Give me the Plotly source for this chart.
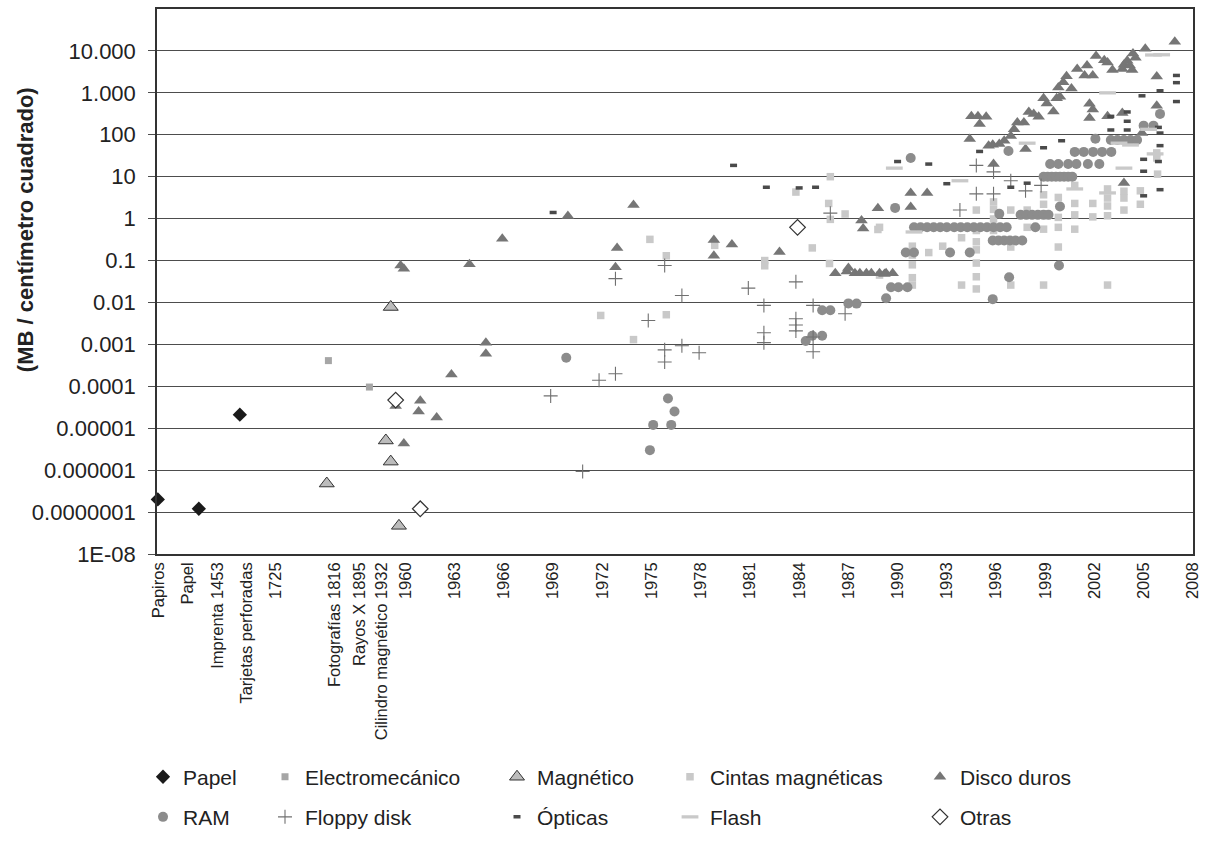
import plotly.graph_objects as go

# ---------------- axis ticks ----------------
# x positions are in "chart units": from 1960 on they equal years; the early
# historical categories sit at fixed positions left of 1960.
tick_pos = [1944.93, 1946.70, 1948.52, 1950.34, 1952.10, 1955.69, 1957.87,
            1960, 1963, 1966, 1969, 1972, 1975, 1978, 1981, 1984, 1987,
            1990, 1993, 1996, 1999, 2002, 2005, 2008]
tick_text = ["Papiros", "Papel", "Imprenta 1453", "Tarjetas perforadas", "1725",
             "Fotografías 1816", "Rayos X 1895<br>Cilindro magnético 1932",
             "1960", "1963", "1966", "1969", "1972", "1975", "1978", "1981",
             "1984", "1987", "1990", "1993", "1996", "1999", "2002", "2005", "2008"]
y_tick_vals = [1e-8, 1e-7, 1e-6, 1e-5, 1e-4, 1e-3, 1e-2, 1e-1, 1, 10, 100, 1000, 10000]
y_tick_text = ["1E-08", "0.0000001", "0.000001", "0.00001", "0.0001", "0.001",
               "0.01", "0.1", "1", "10", "100", "1.000", "10.000"]

# ---------------- series ----------------
papel_x = [1944.9, 1947.4, 1949.9]
papel_y = [2e-7, 1.2e-7, 2.1e-5]

electro_x = [1955.3, 1957.8]
electro_y = [4.1e-4, 9.6e-5]

magnet_x = [1955.2, 1958.8, 1959.1, 1959.1, 1959.6]
magnet_y = [4.8e-7, 5.1e-6, 1.6e-6, 0.0078, 4.7e-8]

cintas_x = [1971.9, 1975.9, 1973.9, 1974.9, 1975.9, 1978.85, 1981.9, 1981.9, 1983.8,
            1984.8, 1985.9, 1985.8, 1985.9, 1985.85, 1986.8, 1988.8, 1988.9, 1988.9,
            1990.9, 1990.9, 1990.9, 1990.9, 1990.9, 1991.9, 1992.75, 1993.9, 1993.9,
            1994.8, 1994.8, 1994.8, 1994.8, 1994.8, 1994.8, 1994.8,
            1995.85, 1995.85, 1995.85, 1995.85,
            1996.9, 1996.9, 1996.9, 1997.9, 1997.9,
            1998.9, 1998.9, 1998.9, 1998.9, 1998.9,
            1999.8, 1999.8, 1999.8, 1999.8,
            2000.8, 2000.8, 2000.8, 2000.8, 2001.9, 2001.9,
            2002.8, 2002.8, 2002.8, 2002.8, 2002.8,
            2003.8, 2003.8, 2003.8, 2004.8, 2004.8,
            2005.85, 2005.8, 2005.8]
cintas_y = [0.0049, 0.0051, 0.0013, 0.32, 0.13, 0.23, 0.075, 0.1, 4.3,
            0.2, 10, 2.3, 0.96, 0.085, 1.29, 0.55, 0.045, 0.62,
            0.22, 0.135, 0.079, 0.039, 0.026, 0.155, 0.22, 0.35, 0.026,
            1.6, 0.52, 0.28, 0.18, 0.087, 0.041, 0.021,
            2.5, 1.66, 0.98, 0.52,
            1.6, 0.21, 0.026, 1.6, 0.62,
            3.7, 2.2, 1.3, 0.56, 0.026,
            3.2, 1.07, 0.62, 0.21,
            6.2, 2.3, 1.23, 0.56, 2.3, 1.1,
            5.1, 3.1, 2.0, 1.17, 0.026,
            4.5, 3.1, 1.6, 4.6, 2.2,
            11.5, 37, 28]

disco_x = [1959.7, 1959.9, 1959.4, 1960.9, 1960.8, 1961.9, 1959.9, 1962.8, 1964.9,
           1964.9, 1963.9, 1965.9, 1969.9, 1973.9, 1972.9, 1972.8, 1978.8, 1978.8,
           1979.9, 1982.8,
           1986.2, 1986.9, 1987.0, 1987.4, 1987.7, 1988.1, 1988.4, 1988.9, 1989.2,
           1989.3, 1989.7,
           1988.8, 1987.8, 1987.9, 1990.8, 1991.8, 1990.8,
           1994.4, 1994.5, 1994.9, 1995.4, 1995.0, 1995.55, 1995.8, 1996.2, 1996.5,
           1996.9, 1997.1, 1997.3, 1997.7, 1998.0, 1998.3, 1998.6, 1998.9, 1999.1,
           1999.5, 1999.7, 1999.9, 1999.8, 2000.1, 2000.3, 2000.6, 2000.95, 2001.4,
           2001.55, 2001.9, 2002.1, 2002.6, 2002.8, 2003.1, 2003.7, 2003.8, 2004.0,
           2004.15, 2004.3, 2004.35, 2004.5, 2005.1, 2006.9, 2005.8, 2005.8,
           2001.7, 2001.9, 2001.7, 2002.8, 2003.7, 1995.85, 1997.8, 2003.8, 2004.9]
disco_y = [0.076, 0.064, 3.4e-5, 4.5e-5, 2.5e-5, 1.8e-5, 4.3e-6, 1.9e-4, 0.0011,
           6e-4, 0.082, 0.33, 1.15, 2.1, 0.2, 0.069, 0.31, 0.13,
           0.24, 0.16,
           0.05, 0.055, 0.066, 0.05, 0.05, 0.05, 0.05, 0.05, 0.048,
           0.05, 0.05,
           1.76, 0.9, 0.58, 4.1, 4.1, 1.9,
           79, 275, 275, 270, 180, 55, 58, 60, 72,
           94, 135, 195, 195, 350, 315, 270, 740, 560,
           360, 740, 810, 1350, 1800, 2500, 1270, 3700, 2600,
           4500, 2600, 7600, 6000, 5300, 3500, 3700, 4700, 5800,
           4500, 3500, 8700, 6900, 11300, 16600, 2450, 490,
           550, 400, 250, 275, 330, 20, 46, 7.1, 110]

ram_x = [1969.8, 1976.0, 1976.4, 1975.1, 1976.2, 1974.9,
         1984.4, 1984.8, 1985.4, 1985.4, 1985.9, 1987.0, 1987.5, 1989.3,
         1989.6, 1990.05, 1990.6, 1989.85, 1990.8,
         1990.5, 1991.0, 1993.2, 1994.4,
         1991.0, 1991.4, 1991.8, 1992.2, 1992.6, 1993.0,
         1993.45, 1993.85, 1994.25, 1994.65, 1995.05, 1995.45, 1995.85, 1996.25, 1996.65,
         1995.8, 1996.15, 1996.5, 1996.85, 1997.2, 1997.6,
         1995.8, 1996.8, 1996.2, 1996.76,
         1997.5, 1997.85, 1998.2, 1998.55, 1998.9, 1999.2,
         1998.4, 1999.9, 1999.84,
         1998.9, 1999.15, 1999.4, 1999.65, 1999.9, 2000.15, 2000.4, 2000.65,
         1999.3, 1999.8, 2000.4, 2000.9, 2001.6, 2002.3,
         2000.8, 2001.35, 2001.92, 2002.47, 2003.03,
         2002.06, 2003.0, 2003.4, 2003.8, 2004.2, 2004.6,
         2005.0, 2005.6, 2006.0]
ram_y = [4.8e-4, 5.1e-5, 2.5e-5, 1.2e-5, 1.2e-5, 3e-6,
         0.0012, 0.0016, 0.0016, 0.0065, 0.0065, 0.0095, 0.0094, 0.0126,
         0.023, 0.023, 0.023, 1.8, 28,
         0.155, 0.155, 0.155, 0.155,
         0.62, 0.62, 0.62, 0.62, 0.62, 0.62,
         0.62, 0.62, 0.62, 0.62, 0.62, 0.62, 0.62, 0.62, 0.62,
         0.30, 0.30, 0.30, 0.30, 0.30, 0.30,
         0.012, 0.04, 1.3, 41,
         1.23, 1.23, 1.23, 1.23, 1.23, 1.23,
         0.62, 1.95, 0.076,
         10, 10, 10, 10, 10, 10, 10, 10,
         20, 20, 20, 20, 20, 20,
         39, 39, 39, 39, 39,
         80, 75, 75, 75, 75, 75,
         165, 165, 315]

floppy_x = [1968.85, 1970.8, 1971.8, 1972.8, 1972.8, 1974.8, 1975.8, 1975.8, 1975.8,
            1976.85, 1976.85, 1977.9, 1980.9, 1981.85, 1981.85, 1981.85, 1983.8, 1983.8,
            1983.8, 1983.8, 1984.85, 1984.85, 1984.85, 1985.9, 1986.8, 1993.8, 1994.8,
            1995.85, 1994.8, 1995.85, 1996.9, 1997.8, 1998.75]
floppy_y = [5.9e-5, 9.3e-7, 1.4e-4, 2e-4, 0.037, 0.0037, 0.076, 7.4e-4, 3.8e-4,
            0.0146, 9.3e-4, 6.3e-4, 0.022, 0.0085, 0.0019, 0.0011, 0.031, 0.0041,
            0.0029, 0.0021, 0.0085, 0.0015, 6.7e-4, 1.35, 0.0054, 1.6, 18.6,
            13, 3.9, 3.9, 8, 4.6, 6.2]

optic_x = [1969.0, 1980.0, 1982.0, 1984.0, 1985.0, 1990.0, 1991.9, 1993.0, 1995.0,
           1996.9, 1997.9, 1998.9, 2000.0, 2003.0, 2003.0, 2004.0, 2004.0, 2004.0,
           2004.9, 2005.0, 2005.0, 2005.0, 2006.0, 2005.9, 2006.0, 2006.0, 2005.9,
           2006.0, 2007.0, 2007.0, 2007.0]
optic_y = [1.4, 18.6, 5.6, 5.4, 5.6, 23, 20, 6.8, 40,
           5.6, 7, 49, 72, 275, 130, 350, 210, 130,
           850, 26, 13.5, 3.5, 1120, 150, 110, 55, 23,
           4.9, 2600, 1750, 620]

flash_x = [1989.8, 1991.0, 1993.8, 1997.9, 2000.8, 2002.8, 2002.8, 2003.5, 2004.2,
           2003.8, 2005.3, 2005.7, 2005.6, 2006.1]
flash_y = [16, 0.48, 8, 63, 5.1, 4.1, 1000, 63, 57,
           16, 135, 35, 8000, 8100]

otras_x = [1959.4, 1960.9, 1983.9]
otras_y = [4.7e-5, 1.2e-7, 0.62]

# ---------------- figure ----------------
W, H = 1208, 845
L, R, T, B = 157, 15, 7, 281
pw = W - L - R
ph = H - T - B

fig = go.Figure()

series = [
    ("Papel", papel_x, papel_y, dict(symbol="diamond", size=11, color="#1a1a1a")),
    ("Electromecánico", electro_x, electro_y, dict(symbol="square", size=7, color="#a6a6a6")),
    ("Magnético", magnet_x, magnet_y, dict(symbol="triangle-up", size=13, color="#bcbcbc",
                                            line=dict(color="#333333", width=1))),
    ("Cintas magnéticas", cintas_x, cintas_y, dict(symbol="square", size=7.5, color="#c9c9c9")),
    ("Disco duros", disco_x, disco_y, dict(symbol="triangle-up", size=11, color="#767676")),
    ("RAM", ram_x, ram_y, dict(symbol="circle", size=10, color="#8c8c8c")),
    ("Floppy disk", floppy_x, floppy_y, dict(symbol="cross-thin", size=10, color="#707070",
                                             line=dict(color="#707070", width=1.1))),
    ("Ópticas", optic_x, optic_y, dict(symbol="line-ew", size=5, color="#4a4a4a",
                                       line=dict(color="#4a4a4a", width=3.5))),
    ("Flash", flash_x, flash_y, dict(symbol="line-ew", size=12, color="#c9c9c9",
                                     line=dict(color="#c9c9c9", width=3.3))),
    ("Otras", otras_x, otras_y, dict(symbol="diamond", size=12, color="white",
                                     line=dict(color="#333333", width=1.2))),
]

# legend cell positions (pixels): marker centre x, row centre y
leg_cols = [163, 285, 517, 690, 940, 163, 285, 517, 690, 940]
leg_rows = [792, 792, 792, 792, 792, 833, 833, 833, 833, 833]

font_family = "Liberation Sans, Arial, Helvetica, sans-serif"
legends = {}
for i, (name, xs, ys, mk) in enumerate(series):
    lname = "legend" if i == 0 else f"legend{i + 1}"
    fig.add_trace(go.Scatter(x=xs, y=ys, mode="markers", name=name, marker=mk,
                             cliponaxis=False, legend=lname))
    legends[lname] = dict(
        x=(leg_cols[i] - 20 - L) / pw, xanchor="left",
        y=(H - B - leg_rows[i]) / ph, yanchor="middle",
        bgcolor="rgba(0,0,0,0)", borderwidth=0,
        font=dict(family=font_family, size=21, color="#222222"),
        itemsizing="trace",
    )

fig.update_layout(
    width=W, height=H,
    margin=dict(l=L, r=R, t=T, b=B),
    paper_bgcolor="white", plot_bgcolor="white",
    showlegend=True,
    font=dict(family=font_family, color="#222222"),
    **legends,
)

fig.update_xaxes(
    range=[1944.85, 2008.01],
    tickmode="array", tickvals=tick_pos, ticktext=tick_text,
    tickangle=-90, tickfont=dict(size=16.5, color="#222222"),
    showgrid=False, zeroline=False,
    showline=True, mirror=True, linecolor="#333333", linewidth=1.5,
    ticks="",
)
fig.update_yaxes(
    type="log", range=[-8, 5],
    tickmode="array", tickvals=y_tick_vals, ticktext=y_tick_text,
    tickfont=dict(size=22, color="#222222"),
    showgrid=True, gridcolor="#4d4d4d", gridwidth=1.2,
    showline=True, mirror=True, linecolor="#333333", linewidth=1.5,
    ticks="outside", ticklen=7, tickcolor="#4d4d4d", tickwidth=1.2,
    ticklabelstandoff=8,
    zeroline=False,
)

fig.add_annotation(
    text="<b>(MB / centímetro cuadrado)</b>",
    xref="paper", yref="paper",
    x=(25 - L) / pw, y=(H - B - 233) / ph,
    xanchor="center", yanchor="middle",
    textangle=-90, showarrow=False,
    font=dict(family=font_family, size=22, color="#222222"),
)

fig.write_html("out.html")
